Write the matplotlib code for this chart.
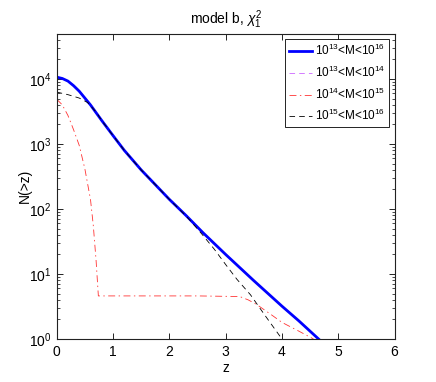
import matplotlib
matplotlib.use("Agg")
import matplotlib.pyplot as plt
from matplotlib.ticker import LogLocator, FixedLocator, NullFormatter

plt.rcParams['font.family'] = ['Liberation Sans', 'DejaVu Sans']
plt.rcParams['mathtext.fontset'] = 'custom'
plt.rcParams['mathtext.rm'] = 'Liberation Sans'
plt.rcParams['mathtext.it'] = 'Liberation Sans:italic'
plt.rcParams['lines.scale_dashes'] = False

# ---- data ----
z_all = [0, 0.1, 0.2, 0.3, 0.4, 0.5, 0.6, 0.8, 1.0, 1.2, 1.5, 2.0, 2.3, 2.6, 3.0, 3.5, 4.0, 4.3, 4.65]
n_all = [10700, 10200, 9300, 7900, 6500, 5100, 4000, 2300, 1350, 800, 400, 141, 79, 43, 20, 7.9, 3.2, 1.9, 1.0]

# 10^13<M<10^14: not visible in the plotted range
z_13_14 = []
n_13_14 = []

z_14_15 = [0, 0.1, 0.2, 0.3, 0.4, 0.5, 0.6, 0.65, 0.7, 0.74, 1.5, 2.5, 3.25, 3.4, 3.55, 3.8, 4.0, 4.3, 4.56]
n_14_15 = [4900, 4000, 2750, 1660, 955, 417, 141, 56, 16, 4.6, 4.6, 4.6, 4.5, 4.0, 3.4, 2.4, 1.8, 1.32, 1.0]

z_15_16 = [0, 0.2, 0.4, 0.55, 0.7, 0.8, 1.0, 1.2, 1.5, 2.0, 2.3, 2.55, 2.8, 3.0, 3.2, 3.44, 3.7, 4.0]
n_15_16 = [6300, 5750, 5100, 4350, 3100, 2300, 1350, 800, 400, 141, 78, 44, 24, 14, 8.3, 4.8, 2.3, 1.0]

labels = [r'$10^{13}$<M<$10^{16}$', r'$10^{13}$<M<$10^{14}$',
          r'$10^{14}$<M<$10^{15}$', r'$10^{15}$<M<$10^{16}$']
x_ticks = [0, 1, 2, 3, 4, 5, 6]
y_ticks = [1, 10, 100, 1000, 10000]
y_tick_labels = [r'$10^{0}$', r'$10^{1}$', r'$10^{2}$', r'$10^{3}$', r'$10^{4}$']

fig = plt.figure(figsize=(4.36, 3.82), dpi=100)
ax = fig.add_axes([0.13, 0.1126, 0.775, 0.7994])

ax.semilogy(z_all, n_all, color='#0000ff', lw=2.0, label=labels[0])
ax.semilogy(z_13_14, n_13_14, color='#cc66ff', lw=0.6, linestyle=(0, (4, 3)), label=labels[1])
ax.semilogy(z_14_15, n_14_15, color='#ff3333', lw=0.6, linestyle=(0, (5, 2.5, 1, 2.5)), label=labels[2])
ax.semilogy(z_15_16, n_15_16, color='black', lw=0.6, linestyle=(0, (4, 3)), label=labels[3])

ax.set_xlim(0, 6)
ax.set_ylim(1, 5e4)
ax.xaxis.set_major_locator(FixedLocator(x_ticks))
ax.yaxis.set_major_locator(FixedLocator(y_ticks))
ax.set_yticklabels(y_tick_labels)
ax.yaxis.set_minor_locator(LogLocator(base=10, subs=range(2, 10), numticks=20))
ax.yaxis.set_minor_formatter(NullFormatter())

ax.tick_params(which='both', direction='in', top=True, right=True, labelsize=10, colors='black')
ax.tick_params(which='major', length=4, width=0.6)
ax.tick_params(which='minor', length=2, width=0.5)
ax.tick_params(axis='x', pad=4)
for s in ax.spines.values():
    s.set_linewidth(0.8)
    s.set_color('#222222')

ax.set_xlabel('z', fontsize=10, labelpad=2)
ax.set_ylabel('N(>z)', fontsize=10, labelpad=-2)
ax.set_title(r'model b, $\chi^2_1$', fontsize=10, pad=7)

leg = ax.legend(loc='upper right', fontsize=8.5, fancybox=False, framealpha=1,
                edgecolor='black', handlelength=2.0, handletextpad=0.2,
                borderpad=0.35, labelspacing=0.55, borderaxespad=0.45)
leg.get_frame().set_linewidth(0.6)

fig.savefig('out.png', dpi=100)
